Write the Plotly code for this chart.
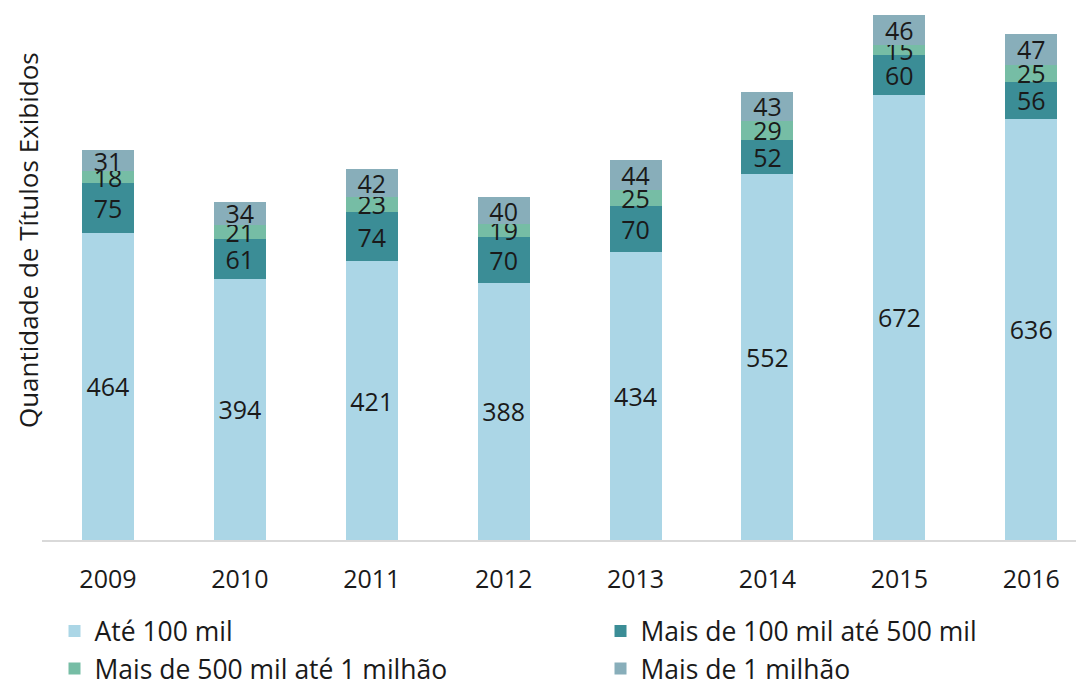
import plotly.graph_objects as go

years = ["2009", "2010", "2011", "2012", "2013", "2014", "2015", "2016"]
ate_100mil = [464, 394, 421, 388, 434, 552, 672, 636]
de_100_a_500mil = [75, 61, 74, 70, 70, 52, 60, 56]
de_500mil_a_1mi = [18, 21, 23, 19, 25, 29, 15, 25]
mais_1mi = [31, 34, 42, 40, 44, 43, 46, 47]

series = [
    ("Até 100 mil", ate_100mil, "#ABD6E6", "legend"),
    ("Mais de 100 mil até 500 mil", de_100_a_500mil, "#3B8D96", "legend2"),
    ("Mais de 500 mil até 1 milhão", de_500mil_a_1mi, "#76BDA5", "legend"),
    ("Mais de 1 milhão", mais_1mi, "#88AEBA", "legend2"),
]

FONT = "Open Sans"
xs = list(range(len(years)))

fig = go.Figure()
for name, vals, color, leg in series:
    fig.add_trace(go.Bar(
        x=xs, y=vals, name=name, legend=leg,
        marker=dict(color=color, line=dict(width=0)),
        text=[str(v) for v in vals],
        textposition="inside",
        insidetextanchor="middle",
        textangle=0,
        constraintext="none",
        textfont=dict(family=FONT, size=25, color="#1a1a1a"),
        width=0.394,
    ))

leg_common = dict(
    orientation="v", xanchor="left", yanchor="top",
    font=dict(family=FONT, size=26.5, color="#1a1a1a"),
    traceorder="normal", tracegroupgap=0,
    bgcolor="rgba(0,0,0,0)",
)

fig.update_layout(
    barmode="stack",
    width=1084, height=682,
    margin=dict(l=34, r=8, t=2, b=150, autoexpand=False),
    paper_bgcolor="white", plot_bgcolor="white",
    font=dict(family=FONT, size=25, color="#1a1a1a"),
    showlegend=True,
    legend=dict(x=0.012, y=-0.127, **leg_common),
    legend2=dict(x=0.536, y=-0.127, **leg_common),
    xaxis=dict(
        tickmode="array", tickvals=xs, ticktext=years,
        range=[-0.5, 7.4], showgrid=False, zeroline=False,
        showline=True, linecolor="#D9D9D9", linewidth=2,
        ticks="", tickfont=dict(family=FONT, size=25, color="#1a1a1a"),
        ticklabelstandoff=16,
    ),
    yaxis=dict(range=[0, 800], visible=False),
    annotations=[dict(
        text="Quantidade de Títulos Exibidos", textangle=-90,
        xref="paper", yref="paper", x=-0.0134, y=0.566,
        xanchor="center", yanchor="middle", showarrow=False,
        font=dict(family=FONT, size=26, color="#1a1a1a"),
    )],
)

fig.write_html("out.html")
